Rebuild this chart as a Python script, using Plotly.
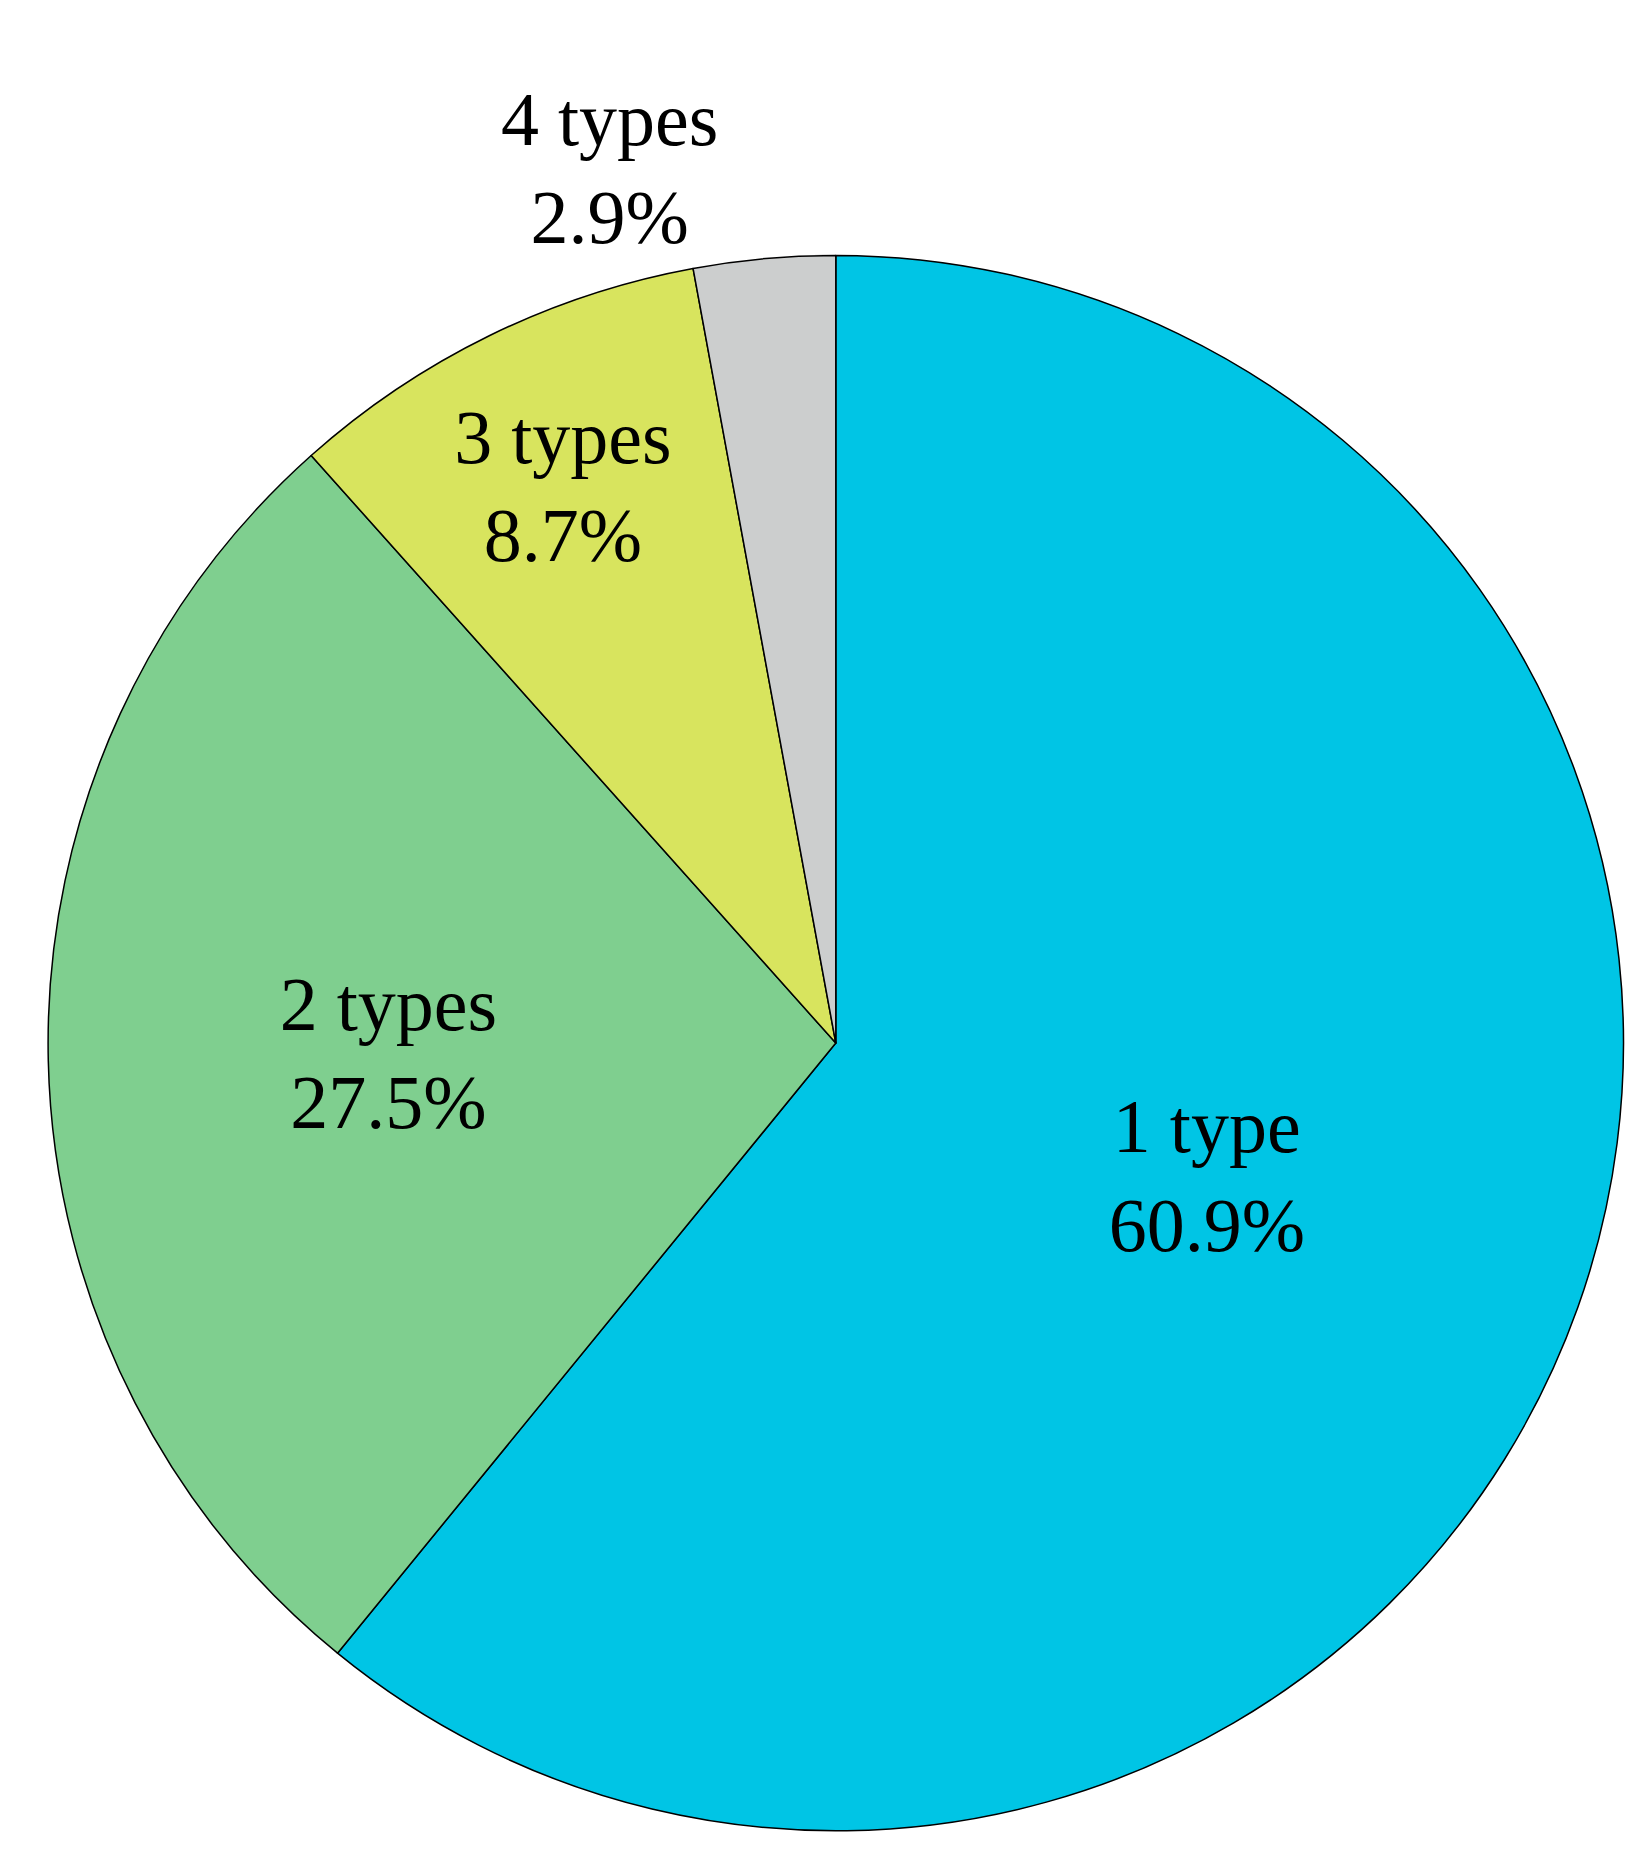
import plotly.graph_objects as go

labels = ["1 type", "2 types", "3 types", "4 types"]
values = [60.9, 27.5, 8.7, 2.9]
colors = ["#00C5E5", "#7FCF8F", "#D8E45E", "#CCCECE"]
positions = ["inside", "inside", "inside", "outside"]

fig = go.Figure(go.Pie(
    labels=labels, values=values, sort=False, direction="clockwise", rotation=0,
    marker=dict(colors=colors, line=dict(color="black", width=1.5)),
    texttemplate="%{label}<br>%{value}%", textposition=positions,
    insidetextorientation="horizontal",
    textfont=dict(family="Liberation Serif", size=76, color="black"),
    domain=dict(x=[0.024, 0.98], y=[0.02, 0.867]),
    showlegend=False, hoverinfo="skip",
))
fig.update_layout(width=1649, height=1860, margin=dict(l=0, r=0, t=0, b=0),
                  paper_bgcolor="white", uniformtext=dict(minsize=76, mode="show"))
fig.write_html("out.html")
